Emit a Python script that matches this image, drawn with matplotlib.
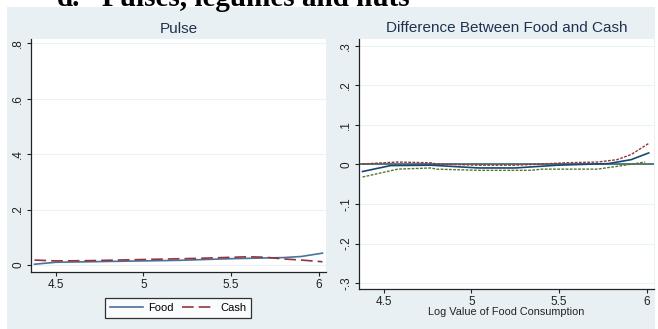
import matplotlib.pyplot as plt
from matplotlib.patches import Rectangle

# left panel: Pulse
food_x = [4.38, 4.5, 4.7, 5.0, 5.2, 5.5, 5.8, 5.9, 6.02]
food_y = [0.003, 0.01, 0.012, 0.015, 0.017, 0.023, 0.027, 0.031, 0.043]
cash_x = [4.38, 4.5, 4.7, 5.0, 5.3, 5.5, 5.6, 5.7, 5.8, 5.9, 6.02]
cash_y = [0.018, 0.015, 0.016, 0.02, 0.024, 0.028, 0.03, 0.028, 0.022, 0.018, 0.012]

# right panel: difference with bounds
diff_x = [4.38, 4.54, 4.77, 5.04, 5.25, 5.49, 5.78, 5.91, 6.01]
diff_y = [-0.018, -0.003, -0.002, -0.009, -0.009, -0.002, 0.002, 0.012, 0.029]
upper_x = [4.38, 4.58, 4.77, 4.8, 5.04, 5.25, 5.4, 5.53, 5.72, 5.83, 5.91, 6.01]
upper_y = [0.001, 0.006, 0.004, 0.001, -0.002, -0.002, 0.001, 0.004, 0.006, 0.012, 0.025, 0.053]
lower_x = [4.38, 4.58, 4.77, 4.8, 5.04, 5.34, 5.40, 5.72, 5.78, 5.83, 5.99]
lower_y = [-0.032, -0.012, -0.009, -0.012, -0.015, -0.015, -0.012, -0.012, -0.008, -0.005, 0.006]

xticks = [4.5, 5, 5.5, 6]
xticklabels = ['4.5', '5', '5.5', '6']
left_yticks = [0, 0.2, 0.4, 0.6, 0.8]
left_ylabels = ['0', '.2', '.4', '.6', '.8']
right_yticks = [-0.3, -0.2, -0.1, 0, 0.1, 0.2, 0.3]
right_ylabels = ['-.3', '-.2', '-.1', '0', '.1', '.2', '.3']

plt.rcParams['font.family'] = ['Liberation Sans', 'DejaVu Sans']

W, H = 658, 329
fig = plt.figure(figsize=(W / 100, H / 100), dpi=100)
fig.patch.set_facecolor('white')

bg = '#e9f0f3'
fig.patches.append(Rectangle((7 / W, 0), (655 - 7) / W, 1 - 7 / H,
                             transform=fig.transFigure, facecolor=bg,
                             edgecolor='none', zorder=-5))

fig.text(57 / W, 1 - 6.5 / H, 'd.', family='Liberation Serif',
         fontweight='bold', fontsize=21, va='baseline', ha='left')
fig.text(102 / W, 1 - 6.5 / H, 'Pulses, legumes and nuts', family='Liberation Serif',
         fontweight='bold', fontsize=21, va='baseline', ha='left')


def make_axes(box):
    x0, y0, x1, y1 = box
    ax = fig.add_axes([x0 / W, 1 - y1 / H, (x1 - x0) / W, (y1 - y0) / H])
    ax.set_facecolor('white')
    for s in ['top', 'right']:
        ax.spines[s].set_visible(False)
    for s in ['left', 'bottom']:
        ax.spines[s].set_color('#222222')
        ax.spines[s].set_linewidth(0.9)
    ax.tick_params(direction='out', length=3, width=0.8, labelsize=8.5,
                   colors='#222222', pad=2)
    ax.set_xticks(xticks)
    ax.set_xticklabels(xticklabels)
    ax.set_xlim(4.36, 6.04)
    return ax


ax1 = make_axes((31, 39, 326, 272))
ax1.set_ylim(-0.025, 0.815)
ax1.set_yticks(left_yticks)
ax1.set_yticklabels(left_ylabels, rotation=90, va='center')
ax1.grid(axis='y', color='#eaf2f3', lw=0.8)
ax1.set_axisbelow(True)
l1, = ax1.plot(food_x, food_y, color='#4a729a', lw=1.2, label='Food')
l2, = ax1.plot(cash_x, cash_y, color='#90353b', lw=1.2, ls=(0, (7, 3)), label='Cash')
ax1.set_title('Pulse', fontsize=11, color='#1e3250', pad=4)
leg = fig.legend(handles=[l1, l2], loc='center', bbox_to_anchor=(178 / W, 1 - 308 / H),
                 ncol=2, fontsize=8, frameon=True, fancybox=False, edgecolor='black',
                 handlelength=3, columnspacing=0.8, handletextpad=0.4,
                 borderpad=0.45)
leg.get_frame().set_linewidth(0.9)

ax2 = make_axes((359, 39, 654, 289))
ax2.set_ylim(-0.315, 0.317)
ax2.set_yticks(right_yticks)
ax2.set_yticklabels(right_ylabels, rotation=90, va='center')
ax2.grid(axis='y', color='#eaf2f3', lw=0.8)
ax2.set_axisbelow(True)
ax2.axhline(0, color='#24595d', lw=1.1)
ax2.plot(upper_x, upper_y, color='#90353b', lw=1, ls=(0, (2, 1)))
ax2.plot(lower_x, lower_y, color='#55752f', lw=1, ls=(0, (2, 1)))
ax2.plot(diff_x, diff_y, color='#1a476f', lw=1.2)
ax2.set_title('Difference Between Food and Cash', fontsize=11, color='#1e3250', pad=5)
ax2.set_xlabel('Log Value of Food Consumption', fontsize=7.8, color='#222222', labelpad=-1)

fig.savefig('out.png', dpi=100, facecolor='white')
